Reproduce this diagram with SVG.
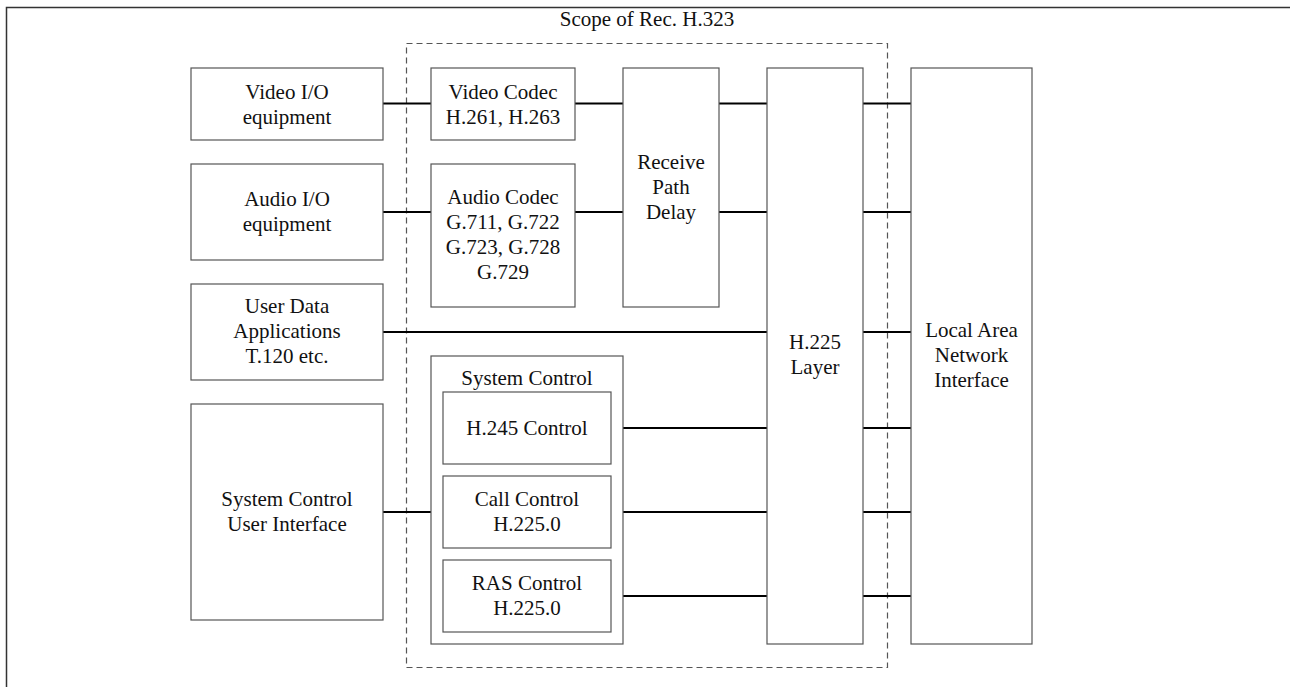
<svg xmlns="http://www.w3.org/2000/svg" width="1290" height="687" viewBox="0 0 1290 687">
<style>
.box{fill:#fff;stroke:#555;stroke-width:1.2}
.t{font-family:"Liberation Serif","Times New Roman",serif;font-size:21px;fill:#111;text-anchor:middle}
.c{stroke:#000;stroke-width:2;fill:none}
.scope{fill:none;stroke:#555;stroke-width:1.2;stroke-dasharray:6,4}
</style>
<rect width="1290" height="687" fill="#fff"/>
<g id="frame"><path d="M6.5,687 V7.5 H1290" fill="none" stroke="#333" stroke-width="1.5"/></g>
<g id="scope"><rect class="scope" x="406.5" y="43.5" width="481" height="624"/><text class="t" x="647" y="26">Scope of Rec. H.323</text></g>
<g id="connectors">
<path class="c" d="M383,103.5H431 M575,103.5H623 M719,103.5H767 M863,103.5H911"/>
<path class="c" d="M383,212H431 M575,212H623 M719,212H767 M863,212H911"/>
<path class="c" d="M383,332H767 M863,332H911"/>
<path class="c" d="M611,428H767 M863,428H911"/>
<path class="c" d="M383,512H443 M611,512H767 M863,512H911"/>
<path class="c" d="M611,596H767 M863,596H911"/>
</g>
<g id="video-io"><rect class="box" x="191" y="68" width="192" height="72"/><text class="t" x="287" y="98.5">Video I/O</text><text class="t" x="287" y="123.5">equipment</text></g>
<g id="audio-io"><rect class="box" x="191" y="164" width="192" height="96"/><text class="t" x="287" y="206">Audio I/O</text><text class="t" x="287" y="231">equipment</text></g>
<g id="user-data"><rect class="box" x="191" y="284" width="192" height="96"/><text class="t" x="287" y="313">User Data</text><text class="t" x="287" y="338">Applications</text><text class="t" x="287" y="363">T.120 etc.</text></g>
<g id="sys-ui"><rect class="box" x="191" y="404" width="192" height="216"/><text class="t" x="287" y="506">System Control</text><text class="t" x="287" y="531">User Interface</text></g>
<g id="video-codec"><rect class="box" x="431" y="68" width="144" height="72"/><text class="t" x="503" y="98.5">Video Codec</text><text class="t" x="503" y="123.5">H.261, H.263</text></g>
<g id="audio-codec"><rect class="box" x="431" y="164" width="144" height="143"/><text class="t" x="503" y="203.5">Audio Codec</text><text class="t" x="503" y="228.5">G.711, G.722</text><text class="t" x="503" y="253.5">G.723, G.728</text><text class="t" x="503" y="278.5">G.729</text></g>
<g id="receive-path-delay"><rect class="box" x="623" y="68" width="96" height="239"/><text class="t" x="671" y="169">Receive</text><text class="t" x="671" y="194">Path</text><text class="t" x="671" y="219">Delay</text></g>
<g id="system-control"><rect class="box" x="431" y="356" width="192" height="288"/><text class="t" x="527" y="385">System Control</text></g>
<g id="h245"><rect class="box" x="443" y="392" width="168" height="72"/><text class="t" x="527" y="435">H.245 Control</text></g>
<g id="call-control"><rect class="box" x="443" y="476" width="168" height="72"/><text class="t" x="527" y="505.5">Call Control</text><text class="t" x="527" y="530.5">H.225.0</text></g>
<g id="ras-control"><rect class="box" x="443" y="560" width="168" height="72"/><text class="t" x="527" y="589.5">RAS Control</text><text class="t" x="527" y="614.5">H.225.0</text></g>
<g id="h225-layer"><rect class="box" x="767" y="68" width="96" height="576"/><text class="t" x="815" y="349">H.225</text><text class="t" x="815" y="374">Layer</text></g>
<g id="lan"><rect class="box" x="911" y="68" width="121" height="576"/><text class="t" x="971.5" y="337">Local Area</text><text class="t" x="971.5" y="362">Network</text><text class="t" x="971.5" y="387">Interface</text></g>
</svg>
